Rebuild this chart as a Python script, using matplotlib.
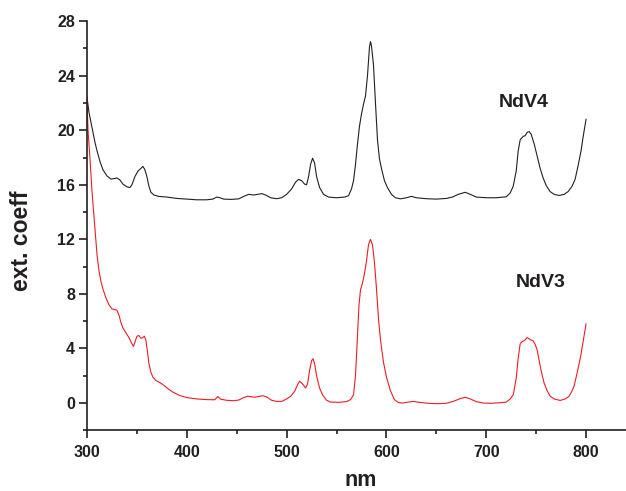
import matplotlib
matplotlib.use("Agg")
import matplotlib.pyplot as plt
from matplotlib.ticker import MultipleLocator

# ---- data ----
nm_v4 = [300, 302, 305, 308, 310, 313, 316, 320, 324, 327, 330, 333, 336, 340, 343, 345, 348, 351, 354, 356,
         358, 360, 362, 364, 367, 372, 380, 390, 400, 410, 420, 426, 430, 433, 437, 445, 452, 457, 462, 467,
         471, 475, 479, 484, 490, 495, 500, 505, 509, 512, 515, 518, 520, 522, 524, 526, 528, 530, 533, 537,
         542, 550, 558, 562, 565, 567, 569, 571, 573, 575, 577, 579, 581, 583, 584, 585, 587, 589, 591, 593,
         595, 598, 601, 605, 609, 614, 620, 625, 630, 640, 650, 660, 666, 672, 679, 684, 690, 700, 710, 720,
         724, 727, 730, 732, 734, 737, 739, 741, 743, 745, 748, 751, 754, 757, 760, 764, 768, 773, 778, 782,
         786, 789, 792, 795, 797, 800]
ext_v4 = [22.4, 21.3, 20.2, 19.1, 18.5, 17.7, 17.1, 16.65, 16.42, 16.45, 16.5, 16.35, 16.05, 15.85, 15.8, 16.0,
          16.6, 17.0, 17.2, 17.35, 17.1, 16.6, 15.9, 15.45, 15.25, 15.15, 15.1, 15.0, 14.95, 14.9, 14.9, 14.95,
          15.1, 15.05, 14.95, 14.93, 14.97, 15.15, 15.3, 15.25, 15.3, 15.35, 15.25, 15.05, 14.98, 15.05, 15.3,
          15.7, 16.2, 16.4, 16.3, 16.05, 16.0, 16.6, 17.5, 17.95, 17.6, 16.6, 15.8, 15.3, 15.1, 15.05, 15.1,
          15.2, 15.7, 16.3, 17.5, 19.0, 20.3, 21.2, 21.9, 22.5, 24.0, 26.1, 26.5, 26.2, 24.8, 22.0, 19.3, 17.9,
          17.2, 16.3, 15.8, 15.3, 15.05, 14.97, 15.05, 15.15, 15.05, 14.98, 14.95, 15.0, 15.1, 15.3, 15.45,
          15.3, 15.1, 15.05, 15.05, 15.12, 15.4, 15.9, 17.0, 18.5, 19.3, 19.55, 19.6, 19.85, 19.9, 19.7, 19.0,
          18.1, 17.2, 16.5, 15.95, 15.5, 15.3, 15.22, 15.3, 15.5, 15.9, 16.4, 17.4, 18.5, 19.5, 20.8]

nm_v3 = [300, 301, 303, 305, 306.5, 308, 310, 312, 314, 316, 319, 322, 325, 328, 330, 332, 334, 336, 339, 342,
         345, 346.5, 348, 350, 352, 354, 355.5, 357.5, 359, 360.5, 362, 364, 366, 369, 373, 377, 381, 386, 393,
         400, 410, 420, 428, 431, 434, 440, 447, 452, 457, 461, 465, 468, 472, 476, 480, 485, 490, 495, 500,
         504, 508, 511, 513, 516, 519, 521, 523, 525, 526.5, 528, 530, 533, 536, 540, 544, 552, 560, 564, 567,
         569, 571, 572.5, 574, 576, 578, 580, 582, 584, 586, 588, 590, 592, 594, 597, 600, 604, 608, 612, 616,
         622, 627, 633, 642, 651, 660, 668, 674, 679, 684, 690, 697, 705, 715, 720, 724, 727, 730, 732, 734,
         736, 738.5, 741, 744, 747, 749, 751, 753, 755.5, 758, 761, 764, 768, 774, 779, 783, 786, 788, 791,
         794.5, 797, 800]
ext_v3 = [22.2, 20.0, 17.9, 15.5, 14.1, 12.6, 10.9, 9.7, 8.9, 8.35, 7.7, 7.2, 6.9, 6.85, 6.8, 6.45, 5.9, 5.5,
          5.15, 4.8, 4.35, 4.15, 4.45, 4.9, 4.95, 4.75, 4.78, 4.9, 4.6, 3.8, 2.9, 2.25, 1.9, 1.65, 1.5, 1.3,
          1.05, 0.8, 0.55, 0.4, 0.3, 0.25, 0.24, 0.48, 0.28, 0.2, 0.17, 0.22, 0.4, 0.5, 0.45, 0.42, 0.48, 0.54,
          0.45, 0.2, 0.12, 0.12, 0.3, 0.5, 0.85, 1.35, 1.6, 1.4, 1.1, 1.4, 2.4, 3.1, 3.25, 2.9, 2.0, 1.1, 0.6,
          0.2, 0.07, 0.05, 0.1, 0.25, 0.6, 2.0, 5.0, 7.2, 8.3, 8.8, 9.5, 10.4, 11.6, 12.0, 11.6, 10.3, 8.4, 6.2,
          4.65, 3.0, 1.9, 0.9, 0.25, 0.03, 0.0, 0.07, 0.12, 0.05, -0.02, -0.05, -0.02, 0.15, 0.33, 0.42, 0.3,
          0.1, 0.0, -0.02, 0.03, 0.07, 0.3, 0.6, 1.8, 3.3, 4.35, 4.5, 4.6, 4.8, 4.65, 4.55, 4.3, 3.9, 3.1, 2.2,
          1.45, 0.9, 0.5, 0.3, 0.19, 0.3, 0.5, 0.9, 1.25, 2.2, 3.4, 4.5, 5.8]

x_ticks = [300, 400, 500, 600, 700, 800]
y_ticks = [0, 4, 8, 12, 16, 20, 24, 28]
series_labels = ["NdV4", "NdV3"]

# ---- figure ----
ink = "#231f20"
plt.rcParams["font.family"] = ["Liberation Sans", "DejaVu Sans"]

fig = plt.figure(figsize=(6.26, 4.91), dpi=100)
ax = fig.add_axes([0.139, 0.1236, 0.861, 0.8334])

ax.plot(nm_v4, ext_v4, color=ink, lw=0.8)
ax.plot(nm_v3, ext_v3, color="#ed1c24", lw=0.8)

ax.set_xlim(300, 840)
ax.set_ylim(-2, 28)
ax.set_xticks(x_ticks)
ax.set_yticks(y_ticks)
ax.xaxis.set_minor_locator(MultipleLocator(50))
ax.yaxis.set_minor_locator(MultipleLocator(2))

for s in ["top", "right"]:
    ax.spines[s].set_visible(False)
for s in ["left", "bottom"]:
    ax.spines[s].set_linewidth(1.2)
    ax.spines[s].set_color(ink)

ax.tick_params(which="major", direction="out", length=5.5, width=1.2, color=ink,
               labelsize=11.5, labelcolor=ink)
ax.tick_params(axis="x", which="major", pad=5)
ax.tick_params(axis="y", which="major", pad=3)
ax.tick_params(which="minor", direction="out", length=3, width=1.2, color=ink)
for lab in ax.get_xticklabels() + ax.get_yticklabels():
    lab.set_fontweight("bold")

ax.set_xlabel("nm", fontsize=15.5, fontweight="bold", color=ink)
ax.xaxis.set_label_coords(0.508, -0.136)
ax.xaxis.label.set_va("baseline")
ax.set_ylabel("ext. coeff", fontsize=16.5, fontweight="bold", color=ink)
ax.yaxis.set_label_coords(-0.100, 0.464)

ax.text(737, 22.0, series_labels[0], fontsize=14, fontweight="bold", color=ink, ha="center", va="center")
ax.text(755, 8.85, series_labels[1], fontsize=14, fontweight="bold", color=ink, ha="center", va="center")

fig.savefig("out.png", dpi=100)
